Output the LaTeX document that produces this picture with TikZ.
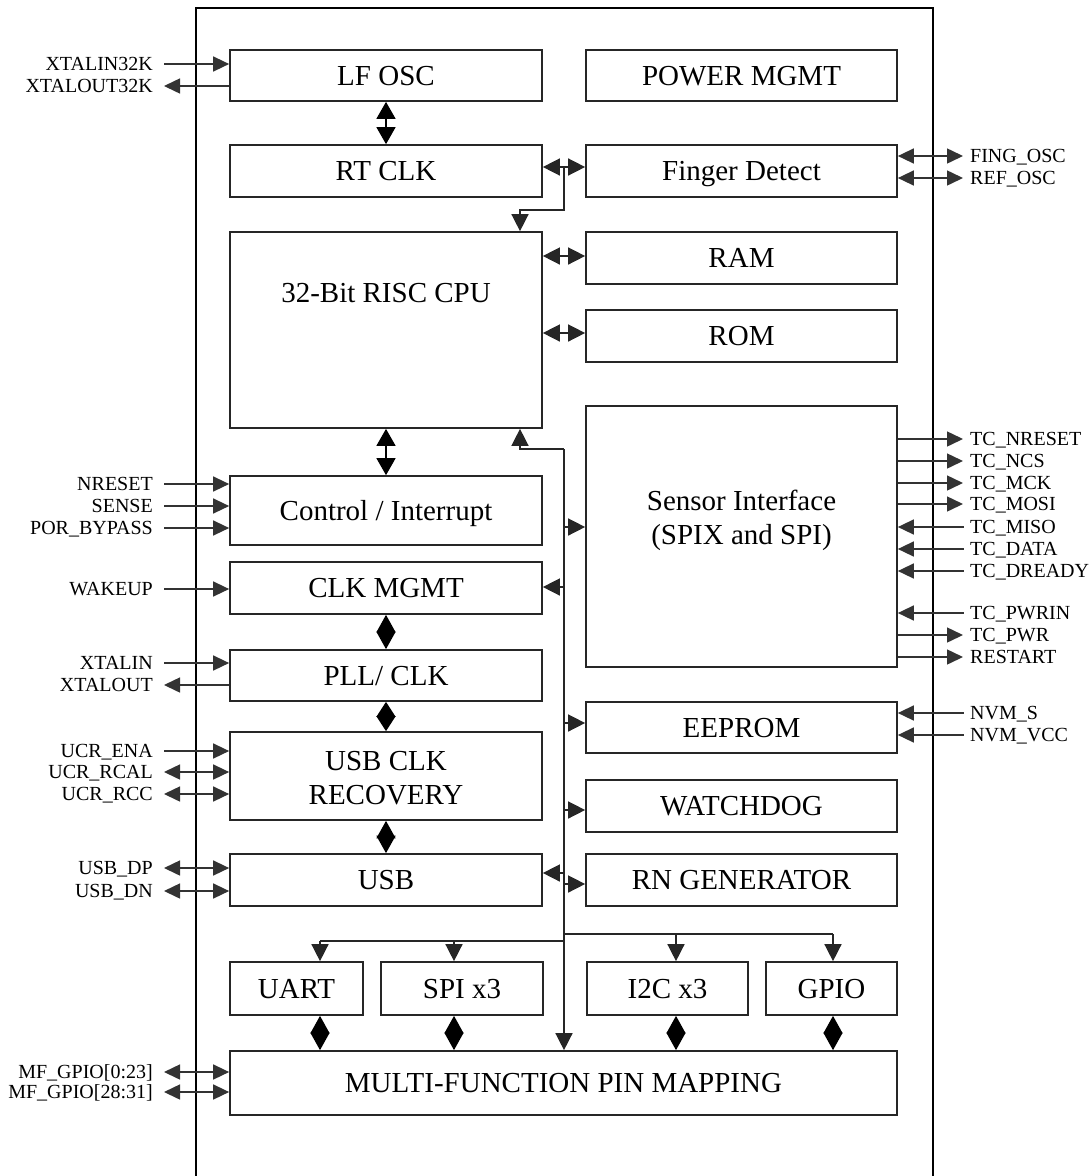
\documentclass[tikz,border=0pt]{standalone}
\usepackage{fontspec}
\setmainfont{Liberation Serif}
\usetikzlibrary{arrows.meta}
\begin{document}
\begin{tikzpicture}[x=1pt,y=-1pt,
  blk/.style={draw=black!85, line width=1.7pt, inner sep=0pt, align=center,
    text height=19.2pt, text depth=0pt, font=\fontsize{29}{34}\selectfont},
  btxt/.style={inner sep=0pt, align=center, text height=19.2pt, text depth=0pt,
    font=\fontsize{29}{34}\selectfont},
  mtxt/.style={inner sep=0pt, align=center, font=\fontsize{29}{34}\selectfont},
  lbl/.style={inner sep=0pt, text height=13pt, text depth=0pt,
    font=\fontsize{20}{22}\selectfont},
  ln/.style={line width=1.5pt, draw=black!85, >={Triangle[length=17pt,width=17pt]}},
  pinln/.style={line width=1.5pt, draw=black!80, >={Triangle[length=16pt,width=15pt]}},
  dia/.style={line width=1.5pt, draw=black, <->, >={Triangle[length=17.5pt,width=19pt]}},
  diasm/.style={line width=1.5pt, draw=black, <->, >={Triangle[length=15pt,width=19pt]}},
  dbl/.style={line width=1.5pt, draw=black, <->, >={Triangle[length=17pt,width=19pt]}}
]
\useasboundingbox (0,0) rectangle (1089,1176);
% outer chip outline
\draw[line width=2.6pt] (196,1176) -- (196,8) -- (933,8) -- (933,1176);

% blocks
\node[blk, minimum width=312pt, minimum height=51pt] (lfosc) at (386,75.5) {LF OSC};
\node[blk, minimum width=311pt, minimum height=51pt] (power) at (741.5,75.5) {POWER MGMT};
\node[blk, minimum width=312pt, minimum height=52pt] (rtclk) at (386,171) {RT CLK};
\node[blk, minimum width=311pt, minimum height=52pt] (finger) at (741.5,171) {Finger Detect};
\node[blk, minimum width=312pt, minimum height=196pt] (cpu) at (386,330) {};
\node[btxt] (cputxt) at (386,293) {32-Bit RISC CPU};
\node[blk, minimum width=311pt, minimum height=52pt] (ram) at (741.5,258) {RAM};
\node[blk, minimum width=311pt, minimum height=52pt] (rom) at (741.5,336) {ROM};
\node[blk, minimum width=311pt, minimum height=261pt] (sensor) at (741.5,536.5) {};
\node[mtxt] (sensortxt) at (741.5,520.5) {Sensor Interface\\(SPIX and SPI)};
\node[blk, minimum width=312pt, minimum height=69pt] (ctrl) at (386,510.5) {Control / Interrupt};
\node[blk, minimum width=312pt, minimum height=52pt] (clkm) at (386,588) {CLK MGMT};
\node[blk, minimum width=312pt, minimum height=51pt] (pll) at (386,675.5) {PLL/ CLK};
\node[blk, minimum width=312pt, minimum height=88pt] (usbclk) at (386,776) {};
\node[mtxt] (usbclktxt) at (386,778) {USB CLK\\RECOVERY};
\node[blk, minimum width=312pt, minimum height=52pt] (usb) at (386,880) {USB};
\node[blk, minimum width=311pt, minimum height=51pt] (eeprom) at (741.5,727.5) {EEPROM};
\node[blk, minimum width=311pt, minimum height=52pt] (wdog) at (741.5,806) {WATCHDOG};
\node[blk, minimum width=311pt, minimum height=52pt] (rng) at (741.5,880) {RN GENERATOR};
\node[blk, minimum width=133pt, minimum height=53pt] (uart) at (296.5,988.5) {UART};
\node[blk, minimum width=162pt, minimum height=53pt] (spi) at (462,988.5) {SPI x3};
\node[blk, minimum width=161pt, minimum height=53pt] (i2c) at (667.5,988.5) {I2C x3};
\node[blk, minimum width=131pt, minimum height=53pt] (gpio) at (831.5,988.5) {GPIO};
\node[blk, minimum width=667pt, minimum height=64pt] (mfpm) at (563.5,1083) {MULTI-FUNCTION PIN MAPPING};

% internal connectors
\draw[dbl] (lfosc.south) -- (rtclk.north);
\draw[dbl] (cpu.south) -- (ctrl.north);
\draw[dia] (clkm.south) -- (pll.north);
\draw[diasm] (pll.south) -- (usbclk.north);
\draw[dia] (usbclk.south) -- (usb.north);

\coordinate (rf) at (564,167);
\coordinate (rfA) at (564,210);
\coordinate (rfB) at (520,210);
\draw[ln,<->] (rf -| rtclk.east) -- (rf -| finger.west);
\draw[ln,->] (rf) -- (rfA) -- (rfB) -- (rfB |- cpu.north);

\coordinate (cr) at (564,256);
\coordinate (co) at (564,333);
\draw[ln,<->] (cr -| cpu.east) -- (cr -| ram.west);
\draw[ln,<->] (co -| cpu.east) -- (co -| rom.west);

% bus
\coordinate (bT) at (564,449);
\coordinate (bL) at (520,449);
\draw[ln,->] (bT) -- (bL) -- (bL |- cpu.south);
\draw[ln,->] (bT) -- (bT |- mfpm.north);
\foreach \y/\n in {527/sensor,723/eeprom,810/wdog,884/rng}{
  \coordinate (b\y) at (564,\y);
  \draw[ln,->] (b\y) -- (b\y -| \n.west);
}
\foreach \y/\n in {587/clkm,873/usb}{
  \coordinate (b\y) at (564,\y);
  \draw[ln,->] (b\y) -- (b\y -| \n.east);
}
\coordinate (bR) at (564,934);
\coordinate (cI) at (676,934);
\coordinate (cG) at (833,934);
\draw[ln] (bR) -- (cG);
\draw[ln,->] (cI) -- (cI |- i2c.north);
\draw[ln,->] (cG) -- (cG |- gpio.north);
\coordinate (bLL) at (564,941);
\coordinate (cU) at (320,941);
\coordinate (cS) at (454,941);
\draw[ln] (bLL) -- (cU);
\draw[ln,->] (cU) -- (cU |- uart.north);
\draw[ln,->] (cS) -- (cS |- spi.north);
\foreach \c/\a in {cU/uart,cS/spi,cI/i2c,cG/gpio}
  \draw[dia] (\c |- \a.south) -- (\c |- mfpm.north);

% left pins
\foreach \y/\t/\n in {64/XTALIN32K/lfosc,484/NRESET/ctrl,506/SENSE/ctrl,528/POR\_BYPASS/ctrl,
    589/WAKEUP/clkm,663/XTALIN/pll,751/UCR\_ENA/usbclk}{
  \node[lbl,anchor=east] (L\y) at (153,\y) {\t};
  \draw[pinln,->] ([xshift=11pt]L\y.east) -- (L\y.east -| \n.west);
}
\foreach \y/\t/\n in {86/XTALOUT32K/lfosc,685/XTALOUT/pll}{
  \node[lbl,anchor=east] (L\y) at (153,\y) {\t};
  \draw[pinln,<-] ([xshift=11pt]L\y.east) -- (L\y.east -| \n.west);
}
\foreach \y/\t/\n in {772/UCR\_RCAL/usbclk,794/UCR\_RCC/usbclk,868/USB\_DP/usb,891/USB\_DN/usb,
    1072/MF\_GPIO[0:23]/mfpm,1092/MF\_GPIO[28:31]/mfpm}{
  \node[lbl,anchor=east] (L\y) at (153,\y) {\t};
  \draw[pinln,<->] ([xshift=11pt]L\y.east) -- (L\y.east -| \n.west);
}

% right pins
\foreach \y/\t/\n in {156/FING\_OSC/finger,178/REF\_OSC/finger}{
  \node[lbl,anchor=west] (R\y) at (970,\y) {\t};
  \draw[pinln,<->] (R\y.west -| \n.east) -- ([xshift=-7pt]R\y.west);
}
\foreach \y/\t/\n in {439/TC\_NRESET/sensor,461/TC\_NCS/sensor,483/TC\_MCK/sensor,504/TC\_MOSI/sensor,
    635/TC\_PWR/sensor,657/RESTART/sensor}{
  \node[lbl,anchor=west] (R\y) at (970,\y) {\t};
  \draw[pinln,->] (R\y.west -| \n.east) -- ([xshift=-7pt]R\y.west);
}
\foreach \y/\t/\n in {527/TC\_MISO/sensor,549/TC\_DATA/sensor,571/TC\_DREADY/sensor,613/TC\_PWRIN/sensor,
    713/NVM\_S/eeprom,735/NVM\_VCC/eeprom}{
  \node[lbl,anchor=west] (R\y) at (970,\y) {\t};
  \draw[pinln,<-] (R\y.west -| \n.east) -- ([xshift=-6pt]R\y.west);
}
\end{tikzpicture}
\end{document}
